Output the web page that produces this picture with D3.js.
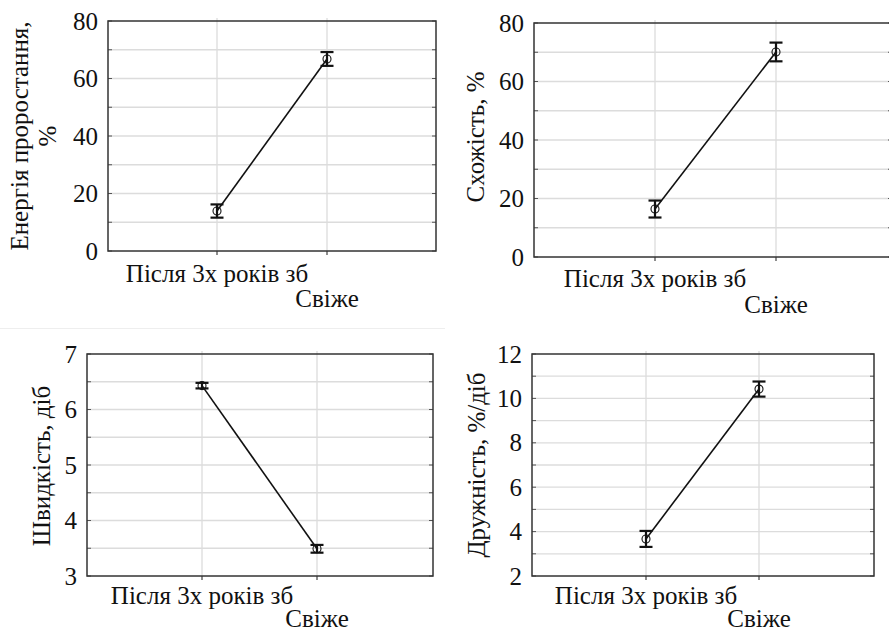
<!DOCTYPE html>
<html>
<head>
<meta charset="utf-8">
<script src="https://cdn.jsdelivr.net/npm/d3@7"></script>
<style>
  body { margin: 0; background: #fff; }
</style>
</head>
<body>
<svg id="chart" width="889" height="631" font-family="Liberation Serif"></svg>
<script>
// ---- data ----
const categories = ["Після 3х років зб", "Свіже"];

const energyMean = [13.9, 66.8];
const energyErr = [2.3, 2.4];

const germMean = [16.4, 70.1];
const germErr = [2.9, 3.2];

const speedMean = [6.43, 3.49];
const speedErr = [0.05, 0.07];

const friendMean = [3.67, 10.42];
const friendErr = [0.36, 0.34];

const yLabels = [["Енергія проростання,", "%"], ["Схожість, %"], ["Швидкість, діб"], ["Дружність, %/діб"]];

const SERIF = "Liberation Serif";

// ---- layout for each panel ----
const panels = [
  { mean: energyMean, err: energyErr, label: yLabels[0], domain: [0, 80], major: [0, 20, 40, 60, 80], step: 10,
    box: { l: 108, r: 436, t: 21, b: 251 }, cx: [217, 327], labX: [22, 50], labY: 136, catY: [282, 307] },
  { mean: germMean, err: germErr, label: yLabels[1], domain: [0, 80], major: [0, 20, 40, 60, 80], step: 10,
    box: { l: 534, r: 892, t: 23, b: 257 }, cx: [655, 776], labX: [478], labY: 137, catY: [287, 313] },
  { mean: speedMean, err: speedErr, label: yLabels[2], domain: [3, 7], major: [3, 4, 5, 6, 7], step: 0.5,
    box: { l: 87, r: 433, t: 354, b: 576 }, cx: [202, 317], labX: [44], labY: 466, catY: [604, 627] },
  { mean: friendMean, err: friendErr, label: yLabels[3], domain: [2, 12], major: [2, 4, 6, 8, 10, 12], step: 1,
    box: { l: 532, r: 874, t: 354, b: 576 }, cx: [646, 759], labX: [479], labY: 465, catY: [604, 627] }
];

const svg = d3.select("#chart");

// faint separator between top-left and bottom-left image pieces
svg.append("line").attr("x1", 0).attr("x2", 445).attr("y1", 328.5).attr("y2", 328.5)
  .attr("stroke", "#eee").attr("stroke-width", 1);

panels.forEach(p => {
  const g = svg.append("g");
  const b = p.box;

  const y = d3.scaleLinear().domain(p.domain).range([b.b, b.t]);
  const x = d3.scaleOrdinal().domain(categories).range(p.cx);

  // minor + major horizontal grid
  const gridVals = d3.range(p.domain[0], p.domain[1] + p.step / 2, p.step);
  g.append("g").selectAll("line").data(gridVals.slice(1, -1)).join("line")
    .attr("x1", b.l).attr("x2", b.r)
    .attr("y1", d => y(d)).attr("y2", d => y(d))
    .attr("stroke", "#dcdcdc").attr("stroke-width", 1.3);

  // vertical grid at categories
  g.append("g").selectAll("line").data(categories).join("line")
    .attr("x1", d => x(d)).attr("x2", d => x(d))
    .attr("y1", b.t - 3).attr("y2", b.b + 4)
    .attr("stroke", "#dcdcdc").attr("stroke-width", 1.3);

  // small ticks on left/right borders
  g.append("g").selectAll("line").data(gridVals).join("line")
    .attr("x1", b.l).attr("x2", b.l + 4)
    .attr("y1", d => y(d)).attr("y2", d => y(d))
    .attr("stroke", "#555");
  g.append("g").selectAll("line").data(gridVals).join("line")
    .attr("x1", b.r - 4).attr("x2", b.r)
    .attr("y1", d => y(d)).attr("y2", d => y(d))
    .attr("stroke", "#555");
  g.append("g").selectAll("line").data(categories).join("line")
    .attr("x1", d => x(d)).attr("x2", d => x(d))
    .attr("y1", b.b).attr("y2", b.b + 4)
    .attr("stroke", "#333");

  // frame
  g.append("rect")
    .attr("x", b.l).attr("y", b.t)
    .attr("width", b.r - b.l).attr("height", b.b - b.t)
    .attr("fill", "none").attr("stroke", "#333").attr("stroke-width", 1.5);

  // y axis labels
  const yAxis = d3.axisLeft(y).tickValues(p.major).tickFormat(d3.format("d")).tickSize(0).tickPadding(10);
  const ax = g.append("g").attr("transform", `translate(${b.l},0)`).call(yAxis)
    .attr("font-family", SERIF).attr("font-size", 25);
  ax.select(".domain").remove();
  ax.selectAll("text").attr("font-family", SERIF).attr("fill", "#111");

  // category labels (staggered)
  g.append("g").selectAll("text").data(categories).join("text")
    .attr("x", d => x(d))
    .attr("y", (d, i) => p.catY[i])
    .attr("text-anchor", "middle")
    .attr("font-size", 25)
    .attr("font-family", SERIF)
    .attr("fill", "#111")
    .text(d => d);

  // y title
  p.label.forEach((t, i) => {
    g.append("text")
      .attr("transform", `translate(${p.labX[i]},${p.labY}) rotate(-90)`)
      .attr("text-anchor", "middle")
      .attr("dominant-baseline", "middle")
      .attr("font-size", 25)
      .attr("font-family", SERIF)
      .attr("fill", "#111")
      .text(t);
  });

  // line
  const line = d3.line().x((d, i) => x(categories[i])).y(d => y(d));
  g.append("path").datum(p.mean).attr("d", line)
    .attr("fill", "none").attr("stroke", "#111").attr("stroke-width", 1.6);

  // error bars
  const eb = g.append("g").selectAll("g").data(p.mean).join("g");
  eb.append("line")
    .attr("x1", (d, i) => x(categories[i])).attr("x2", (d, i) => x(categories[i]))
    .attr("y1", (d, i) => y(d - p.err[i])).attr("y2", (d, i) => y(d + p.err[i]))
    .attr("stroke", "#111").attr("stroke-width", 2.2);
  [-1, 1].forEach(s => {
    eb.append("line")
      .attr("x1", (d, i) => x(categories[i]) - 6.5).attr("x2", (d, i) => x(categories[i]) + 6.5)
      .attr("y1", (d, i) => y(d + s * p.err[i])).attr("y2", (d, i) => y(d + s * p.err[i]))
      .attr("stroke", "#111").attr("stroke-width", 2.2);
  });

  // markers
  g.append("g").selectAll("circle").data(p.mean).join("circle")
    .attr("cx", (d, i) => x(categories[i]))
    .attr("cy", d => y(d))
    .attr("r", 4)
    .attr("fill", "none")
    .attr("stroke", "#111").attr("stroke-width", 1.1);
});
</script>
</body>
</html>
